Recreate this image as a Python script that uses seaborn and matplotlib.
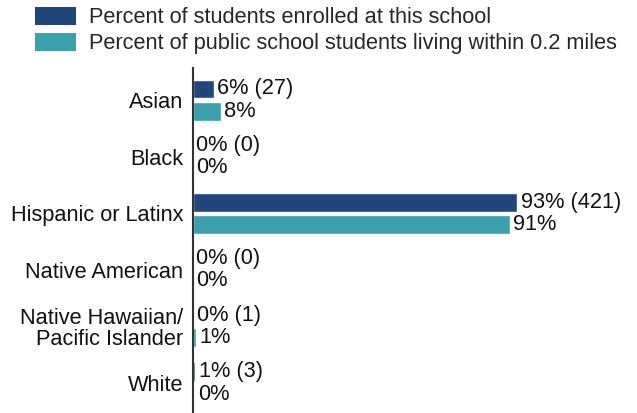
import matplotlib
matplotlib.use("Agg")
import matplotlib.pyplot as plt
import seaborn as sns
import pandas as pd
from matplotlib.patches import Patch

categories = ["Asian", "Black", "Hispanic or Latinx", "Native American",
              "Native Hawaiian/\nPacific Islander", "White"]
enrolled = [5.96, 0.0, 92.94, 0.0, 0.22, 0.66]
enrolled_counts = [27, 0, 421, 0, 1, 3]
nearby = [7.9, 0.0, 90.8, 0.0, 0.8, 0.4]
series = ["Percent of students enrolled at this school",
          "Percent of public school students living within 0.2 miles"]
colors = ["#1F477D", "#3A9FAF"]

df = pd.DataFrame({
    "category": categories * 2,
    "value": enrolled + nearby,
    "series": [series[0]] * len(categories) + [series[1]] * len(categories),
})

sns.set_style("white")
plt.rcParams["font.family"] = ["Liberation Sans", "DejaVu Sans"]
FS = 15.7

fig = plt.figure(figsize=(6.37, 4.13), dpi=100)
ax = fig.add_axes([193 / 637, 0.0, 349 / 637, 1 - 68 / 413])

sns.barplot(data=df, y="category", x="value", hue="series", order=categories,
            hue_order=series, palette=colors, orient="h", width=0.78, gap=0.14,
            saturation=1, legend=False, ax=ax)

ax.set_xlim(0, 100)
ax.set_ylim(5.53, -0.566)
ax.set_xlabel("")
ax.set_ylabel("")
ax.set_xticks([])
ax.tick_params(axis="y", length=0, pad=7, labelsize=FS, labelcolor="#111111")
for t in ax.get_yticklabels():
    t.set_linespacing(1.02)
for s in ["top", "right", "bottom"]:
    ax.spines[s].set_visible(False)
ax.spines["left"].set_color("#333333")
ax.spines["left"].set_linewidth(1.5)

labels0 = [f"{round(v)}% ({c})" for v, c in zip(enrolled, enrolled_counts)]
labels1 = [f"{round(v)}%" for v in nearby]
for cont, labs in zip(ax.containers, [labels0, labels1]):
    ax.bar_label(cont, labels=labs, padding=2.5, fontsize=FS, color="#111111")

handles = [Patch(facecolor=c, edgecolor="none") for c in colors]
fig.legend(handles, series, loc="upper left", bbox_to_anchor=(35 / 637, 1 - 6.5 / 413),
           frameon=False, fontsize=FS, handlelength=1.88, handleheight=0.9,
           handletextpad=0.6, labelspacing=0.22, borderpad=0, borderaxespad=0)

fig.savefig("out.png", dpi=100)
